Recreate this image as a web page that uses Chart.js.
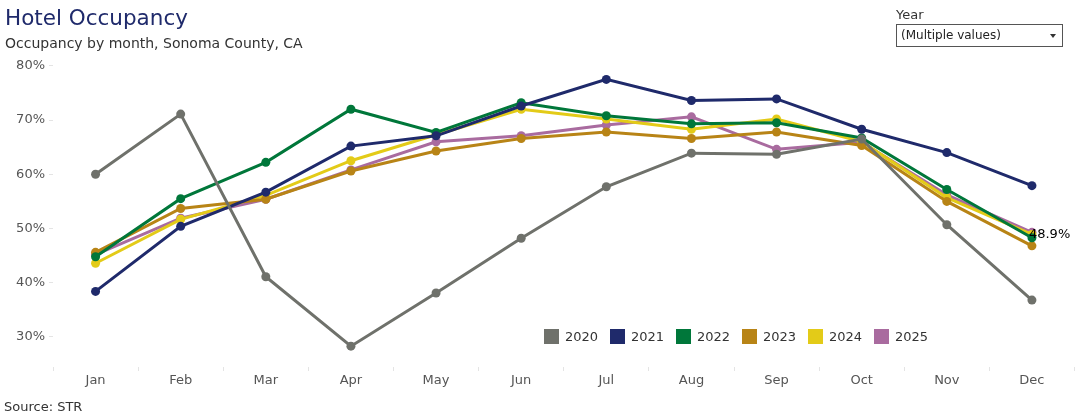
<!DOCTYPE html>
<html>
<head>
<meta charset="utf-8">
<script src="https://cdn.jsdelivr.net/npm/chart.js@4.4.1/dist/chart.umd.min.js"></script>
<style>
  body { margin: 0; background: #fff; font-family: "DejaVu Sans", sans-serif; }
  #wrap { position: relative; width: 1079px; height: 419px; overflow: hidden; }
  #chart { position: absolute; left: 0; top: 0; }
  .title { position: absolute; left: 5px; top: 5px; font-size: 21.5px; color: #1f2a6b; }
  .subtitle { position: absolute; left: 5px; top: 35px; font-size: 14px; color: #333; }
  .source { position: absolute; left: 4px; top: 399px; font-size: 13px; color: #333; }
  .year-label { position: absolute; left: 896px; top: 7px; font-size: 13px; color: #333; }
  .year-box { position: absolute; left: 896px; top: 24px; width: 165px; height: 21px; border: 1px solid #555;
              font-size: 12px; color: #222; line-height: 21px; box-sizing: content-box; }
  .year-box span { position: absolute; left: 4px; }
  .year-box i { position: absolute; right: 6px; top: 9px; width: 0; height: 0;
                border-left: 3.5px solid transparent; border-right: 3.5px solid transparent; border-top: 4px solid #333; }
  #legend { position: absolute; left: 544px; top: 329px; display: flex; font-size: 13px; color: #333; }
  #legend div { width: 66px; display: flex; align-items: center; }
  #legend b { display: inline-block; width: 15px; height: 15px; margin-right: 6px; }
</style>
</head>
<body>
<div id="wrap">
  <canvas id="chart" width="1079" height="419"></canvas>
  <div class="title">Hotel Occupancy</div>
  <div class="subtitle">Occupancy by month, Sonoma County, CA</div>
  <div class="year-label">Year</div>
  <div class="year-box"><span>(Multiple values)</span><i></i></div>
  <div id="legend"></div>
  <div class="source">Source: STR</div>
</div>
<script>
// occupancy in %
const months = ['Jan', 'Feb', 'Mar', 'Apr', 'May', 'Jun', 'Jul', 'Aug', 'Sep', 'Oct', 'Nov', 'Dec'];
const years = ['2020', '2021', '2022', '2023', '2024', '2025'];
const occ2020 = [60.0, 71.1, 41.1, 28.3, 38.1, 48.2, 57.7, 63.9, 63.7, 66.5, 50.7, 36.8];
const occ2021 = [38.4, 50.4, 56.7, 65.2, 67.1, 72.6, 77.5, 73.6, 73.9, 68.3, 64.0, 57.9];
const occ2022 = [44.8, 55.5, 62.2, 72.0, 67.7, 73.2, 70.8, 69.3, 69.5, 66.7, 57.2, 48.3];
const occ2023 = [45.6, 53.7, 55.4, 60.6, 64.3, 66.6, 67.8, 66.6, 67.8, 65.3, 55.0, 46.8];
const occ2024 = [43.6, 51.7, 56.1, 62.5, 67.3, 72.0, 70.2, 68.3, 70.2, 66.0, 55.7, 48.9];
const occ2025 = [45.2, 51.9, 55.4, 60.8, 66.0, 67.1, 69.1, 70.6, 64.6, 65.9, 56.2, 49.3];
const yTicks = [30, 40, 50, 60, 70, 80];

const series = [occ2020, occ2021, occ2022, occ2023, occ2024, occ2025];
const colors = ['#6f716b', '#1f2a6b', '#00773a', '#b88416', '#e3cb18', '#a96b9f'];
const labelledYear = '2024';

const legend = document.getElementById('legend');
years.forEach(function (y, i) {
    const item = document.createElement('div');
    item.innerHTML = '<b style="background:' + colors[i] + '"></b>' + y;
    legend.appendChild(item);
});

// value label at the end of one line
const endLabel = {
    id: 'endLabel',
    afterDatasetsDraw: function (chart) {
        const idx = years.indexOf(labelledYear);
        const meta = chart.getDatasetMeta(idx);
        const last = meta.data[meta.data.length - 1];
        const v = series[idx][series[idx].length - 1];
        const ctx = chart.ctx;
        ctx.save();
        ctx.font = '13px "DejaVu Sans"';
        ctx.fillStyle = '#000';
        ctx.textAlign = 'left';
        ctx.textBaseline = 'middle';
        ctx.fillText(v.toFixed(1) + '%', last.x - 3, last.y);
        ctx.restore();
    }
};

new Chart(document.getElementById('chart').getContext('2d'), {
    type: 'line',
    data: {
        labels: months,
        datasets: years.map(function (y, i) {
            return {
                label: y,
                data: series[i],
                borderColor: colors[i],
                backgroundColor: colors[i],
                pointBackgroundColor: colors[i],
                pointBorderWidth: 0,
                pointRadius: 4.5,
                borderWidth: 3,
                tension: 0
            };
        })
    },
    options: {
        responsive: false,
        animation: false,
        events: [],
        layout: { padding: { top: 55, right: 4, left: 0, bottom: 0 } },
        plugins: { legend: { display: false }, tooltip: { enabled: false } },
        scales: {
            x: {
                offset: true,
                grid: { offset: true, drawOnChartArea: false, tickLength: 4, color: '#e4e4e4' },
                border: { display: false },
                ticks: { color: '#555', font: { family: 'DejaVu Sans', size: 13 }, padding: 2 },
                afterFit: function (s) { s.height = 52; }
            },
            y: {
                min: 24.46,
                max: 82,
                grid: { drawOnChartArea: false, tickLength: 4, color: '#e4e4e4' },
                border: { display: false },
                afterBuildTicks: function (axis) { axis.ticks = yTicks.map(function (v) { return { value: v }; }); },
                ticks: {
                    color: '#555',
                    font: { family: 'DejaVu Sans', size: 13 },
                    padding: 4,
                    callback: function (v) { return v + '%'; }
                },
                afterFit: function (s) { s.width = 53; }
            }
        }
    },
    plugins: [endLabel]
});
</script>
</body>
</html>
